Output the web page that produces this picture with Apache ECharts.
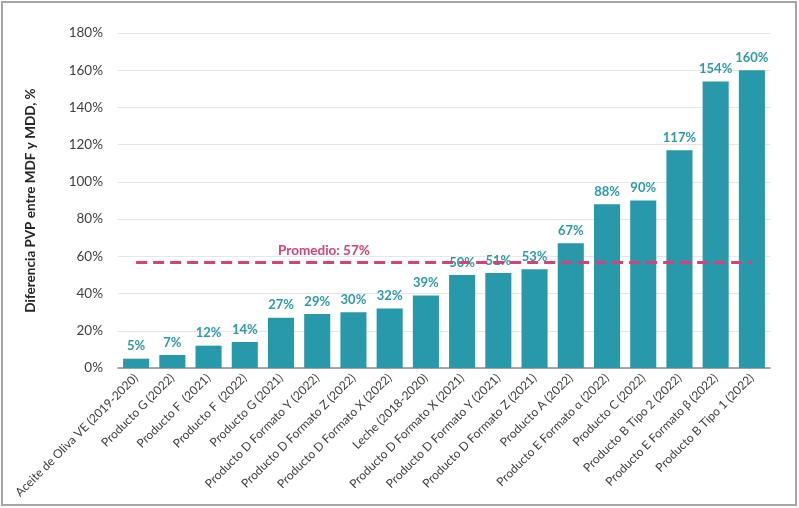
<!DOCTYPE html>
<html>
<head>
<meta charset="utf-8">
<script src="https://cdn.jsdelivr.net/npm/echarts@6/dist/echarts.min.js"></script>
<style>
html,body{margin:0;padding:0;background:#fff;}
#c{width:799px;height:508px;}
</style>
</head>
<body>
<div id="c"></div>
<script>
const categories = [
  "Aceite de Oliva VE (2019-2020)",
  "Producto G (2022)",
  "Producto F  (2021)",
  "Producto F  (2022)",
  "Producto G (2021)",
  "Producto D Formato Y (2022)",
  "Producto D Formato Z (2022)",
  "Producto D Formato X (2022)",
  "Leche (2018-2020)",
  "Producto D Formato X (2021)",
  "Producto D Formato Y (2021)",
  "Producto D Formato Z (2021)",
  "Producto A (2022)",
  "Producto E Formato α (2022)",
  "Producto C (2022)",
  "Producto B Tipo 2 (2022)",
  "Producto E Formato β (2022)",
  "Producto B Tipo 1 (2022)"
];
const values = [5, 7, 12, 14, 27, 29, 30, 32, 39, 50, 51, 53, 67, 88, 90, 117, 154, 160];
const average = 57;
const averageLabel = "Promedio: 57%";
const yAxisName = "Diferencia PVP entre MDF y MDD, %";

const chart = echarts.init(document.getElementById('c'));
chart.setOption({
  animation: false,
  textStyle: { fontFamily: 'Lato' },
  graphic: [{
    type: 'rect',
    shape: { x: 2, y: 2, width: 794, height: 503 },
    style: { fill: 'none', stroke: '#a6a6a6', lineWidth: 2 },
    silent: true
  }],
  grid: { left: 118, right: 29, top: 33, bottom: 140 },
  xAxis: {
    type: 'category',
    data: categories,
    axisTick: { show: false },
    axisLine: { lineStyle: { color: '#8c8c8c', width: 1.5 } },
    axisLabel: {
      rotate: 45,
      interval: 0,
      fontSize: 12,
      color: '#404040',
      margin: 8
    }
  },
  yAxis: {
    type: 'value',
    min: 0,
    max: 180,
    interval: 20,
    name: yAxisName,
    nameLocation: 'middle',
    nameGap: 80,
    nameTextStyle: { fontSize: 13.5, fontWeight: 'bold', color: '#262626' },
    axisLine: { show: false },
    axisTick: { show: false },
    axisLabel: { formatter: '{value}%', fontSize: 13.5, color: '#404040', margin: 15 },
    splitLine: { lineStyle: { color: '#e6e6e6', width: 1 } }
  },
  series: [{
    type: 'bar',
    data: values,
    barCategoryGap: '28%',
    itemStyle: { color: '#2899aa' },
    label: {
      show: true,
      position: 'top',
      formatter: '{c}%',
      color: '#2b9bac',
      fontWeight: 'bold',
      fontSize: 13,
      distance: 6
    },
    markLine: {
      silent: true,
      symbol: ['none', 'none'],
      z: 10,
      lineStyle: { color: '#d9407a', type: [11, 6], width: 3 },
      label: {
        show: true,
        position: 'insideStartTop',
        formatter: averageLabel,
        color: '#d9407a',
        fontWeight: 'bold',
        fontSize: 13.5,
        padding: [0, 0, 0, 138],
        distance: 4
      },
      data: [[
        { coord: [categories[0], average] },
        { coord: [categories[categories.length - 1], average] }
      ]]
    }
  }]
});
</script>
</body>
</html>
